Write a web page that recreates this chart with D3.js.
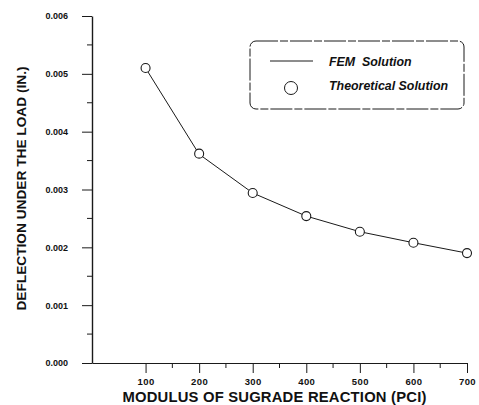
<!DOCTYPE html>
<html><head><meta charset="utf-8">
<script src="https://cdn.jsdelivr.net/npm/d3@7"></script>
<style>
html,body{margin:0;padding:0;background:#fff;}
svg text{font-family:"Liberation Sans",Arial,sans-serif;fill:#111;}
</style></head>
<body>
<svg id="chart" width="479" height="405"></svg>
<script>
const modulus = [100, 200, 300, 400, 500, 600, 700];
const femDeflection = [0.00510, 0.00361, 0.00294, 0.00254, 0.00227, 0.00208, 0.00190];
const theoryDeflection = [0.00510, 0.00362, 0.00294, 0.00254, 0.00227, 0.00208, 0.00190];
const xTicks = [100, 200, 300, 400, 500, 600, 700];
const yTicks = [0, 0.001, 0.002, 0.003, 0.004, 0.005, 0.006];
const xTitle = "MODULUS OF SUGRADE REACTION (PCI)";
const yTitle = "DEFLECTION UNDER THE LOAD (IN.)";
const legendLabels = ["FEM  Solution", "Theoretical Solution"];

const svg = d3.select("#chart");
const x = d3.scaleLinear().domain([0, 700]).range([92, 467]);
const y = d3.scaleLinear().domain([0, 0.006]).range([363, 16]);
const ink = "#1a1a1a";

// Y axis
const yAxis = svg.append("g").attr("transform", `translate(${x(0)},0)`)
  .call(d3.axisLeft(y).tickValues(yTicks).tickFormat(d3.format(".3f")).tickSize(10).tickSizeOuter(0));
yAxis.select(".domain").attr("stroke", ink).attr("stroke-width", 1.4);
yAxis.selectAll(".tick line").attr("stroke", ink).attr("stroke-width", 1);
yAxis.selectAll(".tick text").attr("x", -24).attr("font-size", 9).attr("font-weight", "bold");
// minor y ticks
const yMinor = d3.range(0.0005, 0.006, 0.001);
svg.append("g").selectAll("line").data(yMinor).join("line")
  .attr("x1", x(0) - 5).attr("x2", x(0)).attr("y1", d => y(d)).attr("y2", d => y(d))
  .attr("stroke", ink).attr("stroke-width", 1);

// X axis
const xAxis = svg.append("g").attr("transform", `translate(0,${y(0)})`)
  .call(d3.axisBottom(x).tickValues(xTicks).tickSize(10).tickSizeOuter(0));
xAxis.select(".domain").attr("stroke", ink).attr("stroke-width", 1.1);
xAxis.selectAll(".tick line").attr("stroke", ink).attr("stroke-width", 1);
xAxis.selectAll(".tick text").attr("y", 15.5).attr("font-size", 9.5).attr("font-weight", "bold")
  .attr("letter-spacing", 0.4);
const xMinor = d3.range(150, 700, 100);
svg.append("g").selectAll("line").data(xMinor).join("line")
  .attr("x1", d => x(d)).attr("x2", d => x(d)).attr("y1", y(0)).attr("y2", y(0) + 5)
  .attr("stroke", ink).attr("stroke-width", 1);

// Titles
svg.append("text").attr("x", 274.5).attr("y", 402.3).attr("text-anchor", "middle")
  .attr("font-size", 14.8).attr("letter-spacing", 0.2).attr("font-weight", "bold").text(xTitle);
svg.append("text").attr("transform", "translate(26,188.5) rotate(-90)").attr("text-anchor", "middle")
  .attr("font-size", 13.7).attr("font-weight", "bold").text(yTitle);

// FEM line
const line = d3.line().x((d, i) => x(modulus[i])).y(d => y(d));
svg.append("path").datum(femDeflection).attr("d", line)
  .attr("fill", "none").attr("stroke", ink).attr("stroke-width", 1);

// Theoretical points
svg.append("g").selectAll("circle").data(theoryDeflection).join("circle")
  .attr("cx", (d, i) => x(modulus[i])).attr("cy", d => y(d)).attr("r", 4.5)
  .attr("fill", "#fff").attr("stroke", ink).attr("stroke-width", 1.1);

// Legend
const lg = svg.append("g");
lg.append("rect").attr("x", 250).attr("y", 41).attr("width", 214).attr("height", 68)
  .attr("rx", 6).attr("fill", "#fff").attr("stroke", ink).attr("stroke-width", 1)
  .attr("stroke-dasharray", "22,2,8,2");
lg.append("line").attr("x1", 270).attr("x2", 313).attr("y1", 61).attr("y2", 61)
  .attr("stroke", ink).attr("stroke-width", 1);
lg.append("circle").attr("cx", 291).attr("cy", 88).attr("r", 6.5)
  .attr("fill", "#fff").attr("stroke", ink).attr("stroke-width", 1);
lg.selectAll("text.lab").data(legendLabels).join("text").attr("class", "lab")
  .attr("x", 329).attr("y", (d, i) => i === 0 ? 65.5 : 90)
  .attr("font-size", 12.4).attr("font-weight", "bold").attr("font-style", "italic")
  .style("white-space", "pre").text(d => d);
</script>
</body></html>
